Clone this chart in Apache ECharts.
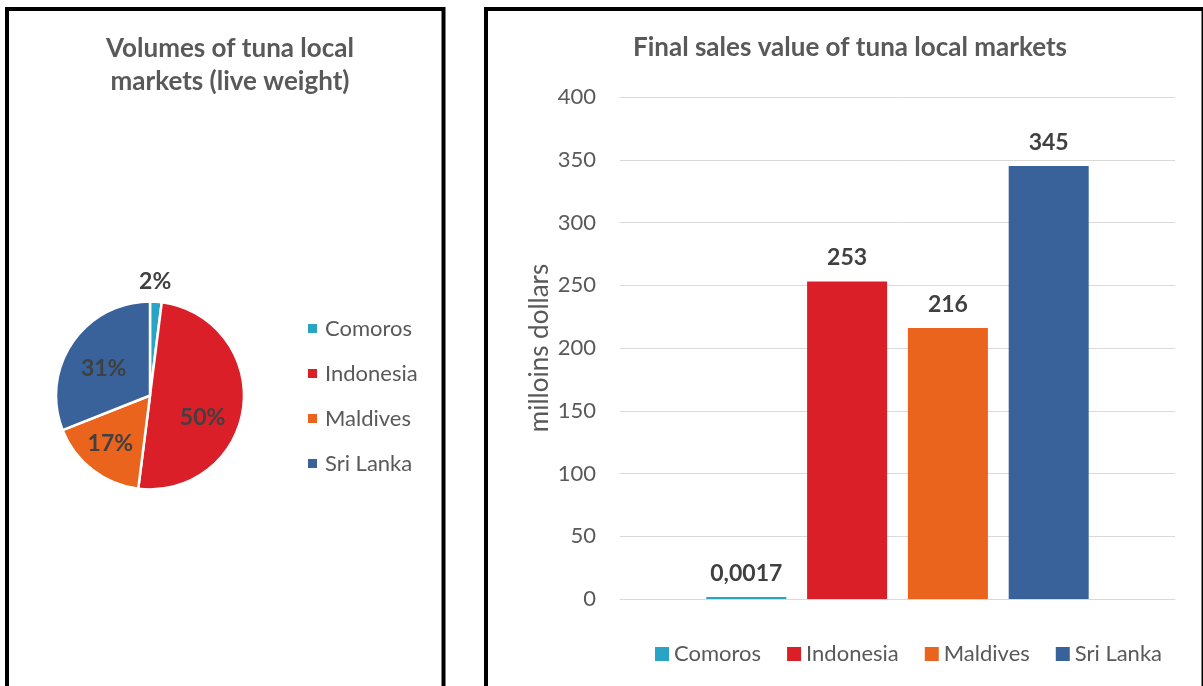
<!DOCTYPE html>
<html>
<head>
<meta charset="utf-8">
<script src="https://cdn.jsdelivr.net/npm/echarts@6/dist/echarts.min.js"></script>
<style>
  html, body { margin: 0; padding: 0; background: #fff; }
  #chart { width: 1203px; height: 686px; }
</style>
</head>
<body>
<div id="chart"></div>
<script>
// Countries shown in both panels
const countries = ['Comoros', 'Indonesia', 'Maldives', 'Sri Lanka'];
// Share of local-market tuna volume (live weight), in percent
const volumeShare = [2, 50, 17, 31];
// Final sales value, millions of dollars
const salesValue = [0.0017, 253, 216, 345];
// Value-axis range and step
const yMin = 0, yMax = 400, yStep = 50;

const colors = ['#29A4C4', '#DA1F29', '#EA641E', '#386299'];
const FONT = 'Lato';
const TEXT = '#595959';
const LABEL = '#404040';

const chart = echarts.init(document.getElementById('chart'), null, { renderer: 'canvas' });

// small shifts that move the pie percentages to their printed spots
const pieLabelShift = [[2, -64], [3, 16], [-9, 9], [-5, 1]];

const barSeries = countries.map((name, i) => ({
  type: 'bar',
  name: name,
  data: [salesValue[i]],
  barWidth: 80,
  barGap: '26%',
  barMinHeight: 2,
  itemStyle: { color: colors[i] },
  label: {
    show: true,
    position: 'top',
    distance: 12,
    fontFamily: FONT,
    fontWeight: 'bold',
    fontSize: 23,
    color: LABEL,
    formatter: p => String(p.value).replace('.', ',')
  }
}));

chart.setOption({
  animation: false,
  color: colors,
  textStyle: { fontFamily: FONT },
  graphic: [
    { type: 'rect', shape: { x: 7, y: 9, width: 436.5, height: 720 },
      style: { fill: '#fff', stroke: '#000', lineWidth: 4 }, z: -10 },
    { type: 'rect', shape: { x: 486, y: 9, width: 717.5, height: 720 },
      style: { fill: '#fff', stroke: '#000', lineWidth: 4 }, z: -10 }
  ],
  title: [
    { text: 'Volumes of tuna local\nmarkets (live weight)', left: 225, top: 27, textAlign: 'center',
      textStyle: { fontFamily: FONT, fontWeight: 'bold', fontSize: 26, color: TEXT, lineHeight: 33 } },
    { text: 'Final sales value of tuna local markets', left: 845, top: 30, textAlign: 'center',
      textStyle: { fontFamily: FONT, fontWeight: 'bold', fontSize: 26, color: TEXT } }
  ],
  legend: [
    { data: countries, orient: 'vertical', left: 303, top: 312, itemWidth: 9, itemHeight: 9,
      itemGap: 22, icon: 'rect', selectedMode: false,
      textStyle: { fontFamily: FONT, fontSize: 22, color: TEXT, lineHeight: 23, padding: [0, 0, 0, 3] } },
    { data: countries, orient: 'horizontal', left: 650, top: 638, itemWidth: 14, itemHeight: 14,
      itemGap: 26, icon: 'rect', selectedMode: false,
      textStyle: { fontFamily: FONT, fontSize: 22, color: TEXT } }
  ],
  grid: { left: 620, right: 28, top: 97, bottom: 87 },
  xAxis: {
    type: 'category',
    data: [''],
    axisLine: { show: true, lineStyle: { color: '#D9D9D9', width: 1 } },
    axisTick: { show: false },
    axisLabel: { show: false }
  },
  yAxis: {
    type: 'value',
    min: yMin, max: yMax, interval: yStep,
    name: 'milloins dollars',
    nameLocation: 'middle',
    nameGap: 67,
    nameRotate: 90,
    nameTextStyle: { fontFamily: FONT, fontSize: 26, color: TEXT },
    axisLine: { show: false },
    axisTick: { show: false },
    axisLabel: { fontFamily: FONT, fontSize: 22, color: TEXT, margin: 24 },
    splitLine: { lineStyle: { color: '#D9D9D9', width: 1 } }
  },
  series: [
    {
      type: 'pie',
      name: 'volume',
      center: [150, 395.5],
      radius: [0, 94],
      startAngle: 90,
      clockwise: true,
      data: countries.map((name, i) => ({ name: name, value: volumeShare[i] })),
      itemStyle: { borderColor: '#fff', borderWidth: 2.5 },
      label: {
        show: true,
        position: 'inside',
        fontFamily: FONT,
        fontWeight: 'bold',
        fontSize: 23,
        color: LABEL,
        formatter: p => Math.round(p.percent) + '%'
      },
      labelLine: { show: false },
      labelLayout: p => ({ dx: pieLabelShift[p.dataIndex][0], dy: pieLabelShift[p.dataIndex][1] }),
      emphasis: { disabled: true }
    },
    ...barSeries
  ]
});
</script>
</body>
</html>
